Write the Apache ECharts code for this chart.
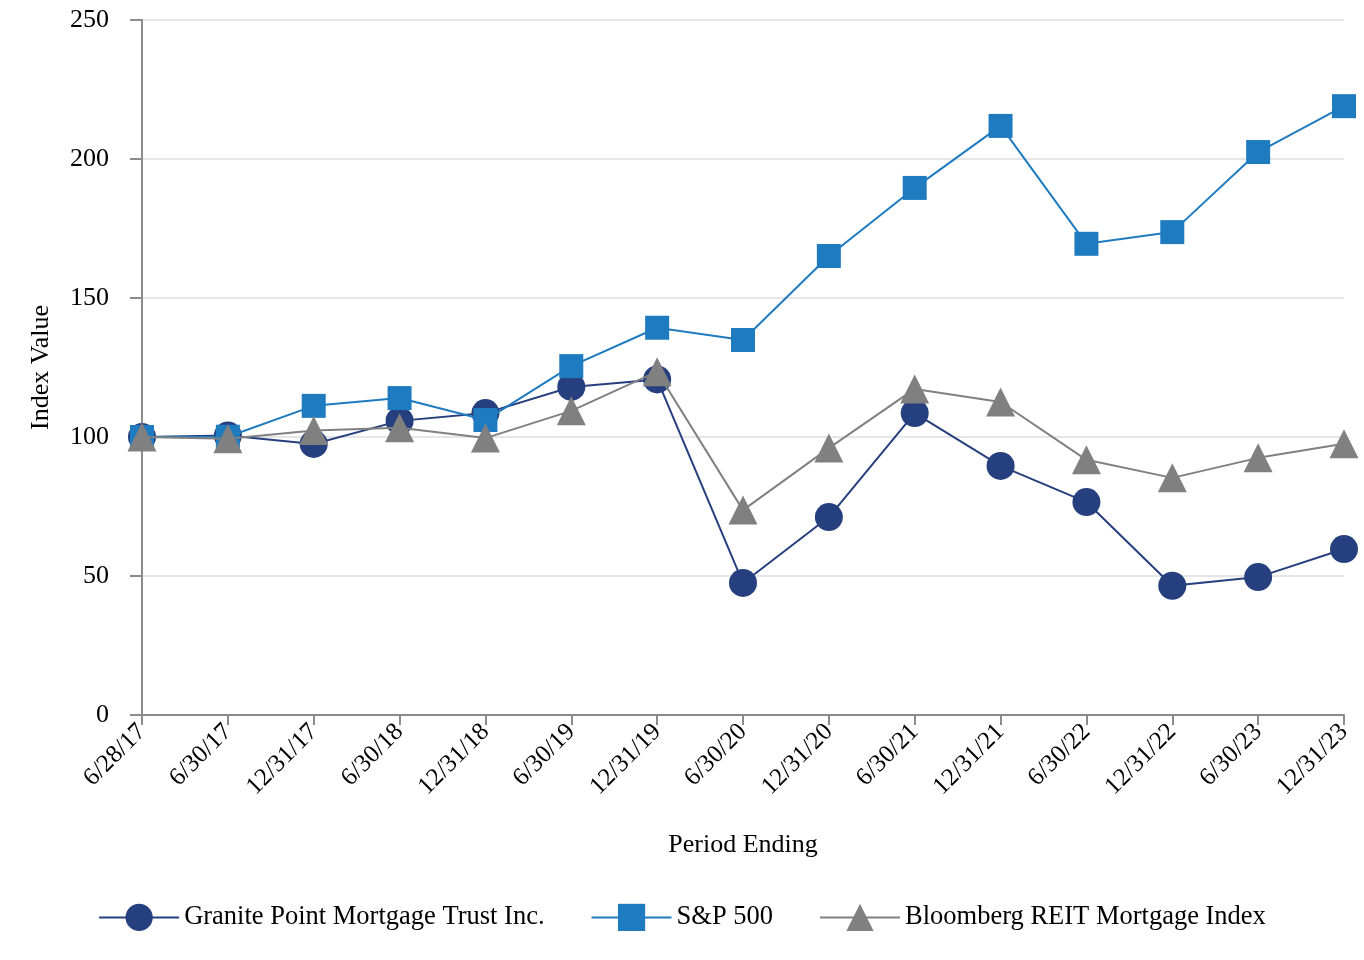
<!DOCTYPE html>
<html>
<head>
<meta charset="utf-8">
<script src="https://cdn.jsdelivr.net/npm/echarts@6/dist/echarts.min.js"></script>
<style>html,body{margin:0;padding:0;background:#fff;}#c{width:1364px;height:960px;}</style>
</head>
<body>
<div id="c"></div>
<script>
const categories = ['6/28/17','6/30/17','12/31/17','6/30/18','12/31/18','6/30/19','12/31/19','6/30/20','12/31/20','6/30/21','12/31/21','6/30/22','12/31/22','6/30/23','12/31/23'];
const granite = [100, 100.5, 97.5, 105.8, 108.6, 118, 120.7, 47.5, 71.2, 108.6, 89.6, 76.6, 46.5, 49.6, 59.7];
const sp500 = [100, 100.1, 111.2, 114, 106.1, 125.5, 139.3, 134.9, 165.1, 189.6, 211.9, 169.5, 173.7, 202.5, 219];
const bloomberg = [100, 99.4, 102.3, 103.3, 99.6, 109.4, 123.5, 73.7, 96, 117.3, 112.6, 91.8, 85.3, 92.5, 97.6];
const yTicks = {min: 0, max: 250, interval: 50};

const font = 'Liberation Serif, Times New Roman, serif';
const chart = echarts.init(document.getElementById('c'));
chart.setOption({
  animation: false,
  backgroundColor: '#fff',
  textStyle: {fontFamily: font, color: '#000'},
  grid: {left: 142, right: 20, top: 20, bottom: 245, containLabel: false},
  legend: {
    bottom: 24,
    left: 'center',
    itemWidth: 80,
    itemHeight: 34,
    itemGap: 46,
    textStyle: {fontFamily: font, fontSize: 26.5, color: '#000'},
    data: ['Granite Point Mortgage Trust Inc.', 'S&P 500', 'Bloomberg REIT Mortgage Index']
  },
  xAxis: {
    type: 'category',
    data: categories,
    boundaryGap: false,
    name: 'Period Ending',
    nameLocation: 'middle',
    nameGap: 117,
    nameTextStyle: {fontFamily: font, fontSize: 26, color: '#000'},
    axisLine: {lineStyle: {color: '#8c8c8c', width: 2}},
    axisTick: {show: true, alignWithLabel: true, length: 10, lineStyle: {color: '#8c8c8c', width: 2}},
    axisLabel: {rotate: 45, fontFamily: font, fontSize: 25, color: '#000', margin: 13, interval: 0},
    splitLine: {show: false}
  },
  yAxis: {
    type: 'value',
    min: yTicks.min, max: yTicks.max, interval: yTicks.interval,
    name: 'Index Value',
    nameLocation: 'middle',
    nameGap: 88,
    nameTextStyle: {fontFamily: font, fontSize: 26, color: '#000'},
    axisLine: {show: true, lineStyle: {color: '#8c8c8c', width: 2}},
    axisTick: {show: true, length: 12, lineStyle: {color: '#8c8c8c', width: 2}},
    axisLabel: {fontFamily: font, fontSize: 26, color: '#000', margin: 33},
    splitLine: {show: true, lineStyle: {color: '#e6e6e6', width: 2}}
  },
  series: [
    {
      name: 'Granite Point Mortgage Trust Inc.',
      type: 'line',
      data: granite,
      symbol: 'circle',
      symbolSize: 28,
      lineStyle: {color: '#263f7e', width: 2},
      itemStyle: {color: '#263f7e'},
      z: 2
    },
    {
      name: 'S&P 500',
      type: 'line',
      data: sp500,
      symbol: 'rect',
      symbolSize: 24,
      lineStyle: {color: '#1f7bc0', width: 2},
      itemStyle: {color: '#1f7bc0'},
      z: 3
    },
    {
      name: 'Bloomberg REIT Mortgage Index',
      type: 'line',
      data: bloomberg,
      symbol: 'triangle',
      symbolSize: 29,
      lineStyle: {color: '#808080', width: 2},
      itemStyle: {color: '#808080'},
      z: 4
    }
  ]
});
</script>
</body>
</html>
